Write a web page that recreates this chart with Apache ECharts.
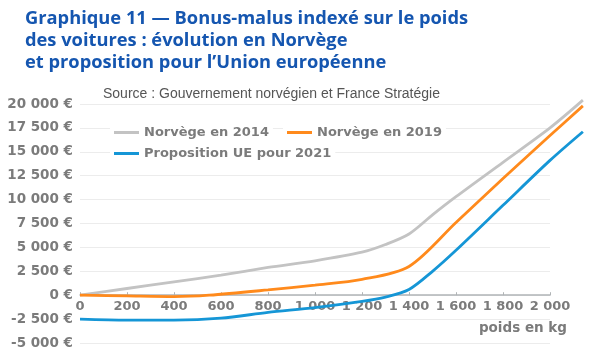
<!DOCTYPE html>
<html>
<head>
<meta charset="utf-8">
<script src="https://cdn.jsdelivr.net/npm/echarts@6/dist/echarts.min.js"></script>
<style>
  html, body { margin: 0; padding: 0; background: #fff; }
  #main { width: 600px; height: 350px; }
</style>
</head>
<body>
<div id="main"></div>
<script>
// poids (kg) et bonus-malus (€)
const norvege2014 = [[0, 0], [200, 700], [400, 1400], [600, 2100], [800, 2900], [1000, 3600], [1200, 4500], [1300, 5300], [1400, 6400], [1500, 8400], [1600, 10300], [1800, 13900], [2000, 17500], [2140, 20400]]
const norvege2019 = [[0, 0], [200, -80], [400, -150], [550, 0], [800, 550], [1000, 1050], [1200, 1650], [1400, 3000], [1600, 7600], [1800, 12200], [2000, 16700], [2140, 19800]]
const propositionUE = [[0, -2500], [200, -2600], [400, -2600], [600, -2400], [800, -1800], [1000, -1300], [1200, -650], [1300, -200], [1400, 600], [1500, 2500], [1600, 4700], [1800, 9400], [2000, 14100], [2140, 17100]]
const seriesNames = ['Norvège en 2014', 'Norvège en 2019', 'Proposition UE pour 2021']
const seriesColors = ['#c3c3c3', '#ff8a1c', '#1596d6']

const grey = '#7b7b7b'
const fmtNum = v => String(v).replace(/\B(?=(\d{3})+(?!\d))/g, ' ')

const myChart = echarts.init(document.getElementById('main'))

const legendBase = {
  icon: 'rect',
  itemWidth: 25,
  itemHeight: 3,
  itemGap: 0,
  backgroundColor: '#fff',
  padding: [2, 4],
  textStyle: { color: grey, fontWeight: 'bold', fontSize: 13, fontFamily: 'DejaVu Sans' }
}

// grille 0 : axes jusqu'à 2 000 kg ; grille 1 : courbes (elles dépassent 2 000 kg)
const xMaxData = 2140
const yMin = -5000
const yMax = 20000
const plotLeft = 80
const plotW = 470
const plotTop = 104
const plotBottom = 7
const plotH = 350 - plotTop - plotBottom
// l'axe des x est posé sur la ligne du 0
const zeroOffset = -plotH * (0 - yMin) / (yMax - yMin)

myChart.setOption({
  animation: false,
  title: [
    {
      text: 'Graphique 11 — Bonus-malus indexé sur le poids\ndes voitures : évolution en Norvège\net proposition pour l’Union européenne',
      left: 20,
      top: 3,
      textStyle: { color: '#1556b0', fontSize: 18.3, fontWeight: 'bold', fontFamily: 'Open Sans', lineHeight: 22 }
    },
    {
      text: 'Source : Gouvernement norvégien et France Stratégie',
      left: 99,
      top: 85,
      backgroundColor: '#fff',
      padding: [2, 4],
      textStyle: { color: '#555', fontSize: 14, fontWeight: 'normal', fontFamily: 'Liberation Sans' }
    }
  ],
  legend: [
    Object.assign({ left: 110, top: 124, data: [seriesNames[0]] }, legendBase),
    Object.assign({ left: 283, top: 124, data: [seriesNames[1]] }, legendBase),
    Object.assign({ left: 110, top: 145, data: [seriesNames[2]] }, legendBase)
  ],
  grid: [
    { left: plotLeft, right: 600 - plotLeft - plotW, top: plotTop, bottom: plotBottom, outerBoundsMode: 'none' },
    { left: plotLeft, right: 600 - plotLeft - plotW * xMaxData / 2000, top: plotTop, bottom: plotBottom, outerBoundsMode: 'none' }
  ],
  xAxis: [
    {
      type: 'value',
      gridIndex: 0,
      min: 0,
      max: 2000,
      interval: 200,
      position: 'bottom',
      offset: zeroOffset,
      axisLine: { onZero: false, lineStyle: { color: '#b0b4b6', width: 1.5 } },
      axisTick: { show: true, inside: true, length: 3, lineStyle: { color: '#b0b4b6' } },
      axisLabel: { color: grey, fontWeight: 'bold', fontSize: 13, fontFamily: 'DejaVu Sans', margin: 5, formatter: v => fmtNum(v) },
      splitLine: { show: false }
    },
    { type: 'value', gridIndex: 1, min: 0, max: xMaxData, show: false }
  ],
  yAxis: [
    {
      type: 'value',
      gridIndex: 0,
      min: yMin,
      max: yMax,
      interval: 2500,
      axisLine: { show: false },
      axisTick: { show: false },
      axisLabel: { color: grey, fontWeight: 'bold', fontSize: 13.5, fontFamily: 'DejaVu Sans', margin: 7, formatter: v => fmtNum(v) + ' €' },
      splitLine: { lineStyle: { color: '#ececec', width: 1 } }
    },
    { type: 'value', gridIndex: 1, min: yMin, max: yMax, show: false }
  ],
  graphic: [
    {
      type: 'text',
      right: 33,
      top: 321,
      style: { text: 'poids en kg', fill: grey, font: 'bold 13.5px "DejaVu Sans"' }
    }
  ],
  series: [norvege2014, norvege2019, propositionUE].map((d, i) => ({
    name: seriesNames[i],
    type: 'line',
    xAxisIndex: 1,
    yAxisIndex: 1,
    data: d,
    smooth: 0.3,
    showSymbol: false,
    clip: false,
    color: seriesColors[i],
    lineStyle: { width: 2.8, color: seriesColors[i] },
    z: 3
  }))
})
</script>
</body>
</html>
